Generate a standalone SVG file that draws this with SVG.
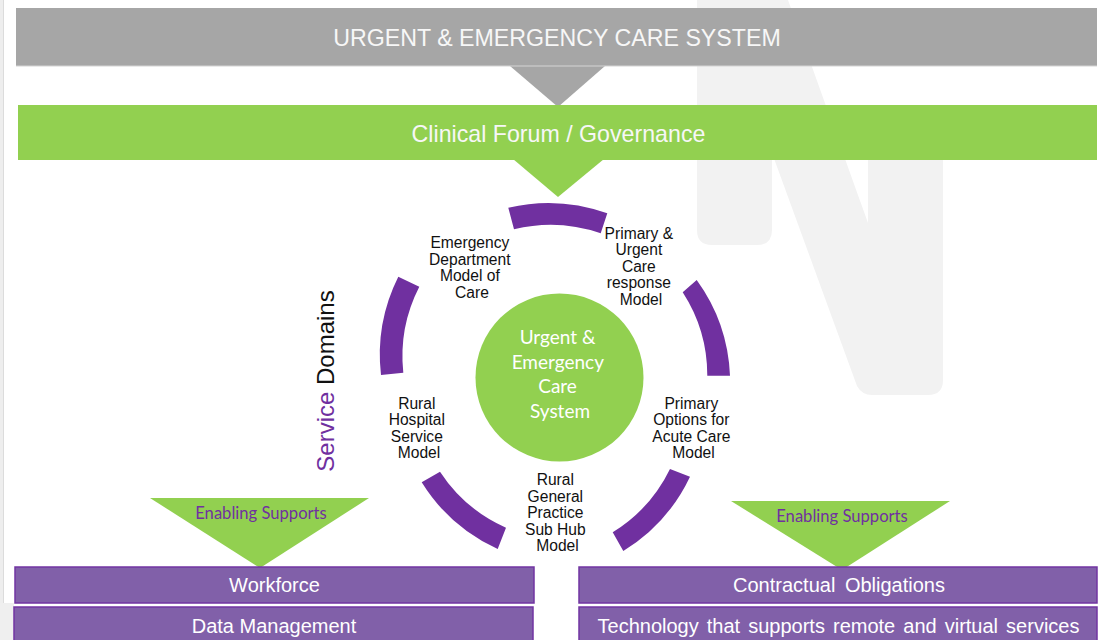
<svg xmlns="http://www.w3.org/2000/svg" width="1101" height="640" viewBox="0 0 1101 640">
  <style>
    .sans { font-family: "Liberation Sans", Arial, sans-serif; }
    .soft { font-family: Lato, "Open Sans", sans-serif; }
    .banner-text { fill: #f7f7f7; font-size: 23.2px; text-anchor: middle; }
    .bar { fill: #8160a9; stroke: #7234a2; stroke-width: 1.5; }
    .bar-text { fill: #ffffff; font-size: 20px; text-anchor: middle; }
    .ring { fill: #7030a0; }
    .label { fill: #111111; font-size: 15.6px; text-anchor: middle; }
    .hub-text { fill: #ffffff; font-size: 19px; text-anchor: middle; }
    .enable-text { fill: #7030a0; font-size: 16.6px; text-anchor: middle; }
    .watermark { fill: #f2f2f2; }
  </style>

  <!-- page background and slide edge -->
  <rect x="0" y="0" width="1101" height="640" fill="#ffffff"/>
  <rect x="0" y="0" width="4" height="640" fill="#eeeeee"/>
  <line x1="3.5" y1="0" x2="3.5" y2="603" stroke="#dcdcdc" stroke-width="1"/>
  <rect x="0" y="603" width="14" height="37" fill="#efefef"/>

  <!-- large background letter -->
  <path class="watermark" d="M697 0 L788 0 L868 223 L868 120 L943 120 L943 380 Q943 395 928 395 L872 395 Q862 395 857 386 L772 153 L772 230 Q772 245 757 245 L712 245 Q697 245 697 230 Z"/>

  <!-- connectors: downward pointers -->
  <g id="connectors">
    <polygon points="510,66 605,66 558,107" fill="#a6a6a6"/>
    <polygon points="513,159 604,159 558,197" fill="#92d050"/>
    <polygon points="150,498 369,498 260,568" fill="#92d050"/>
    <polygon points="731,501 950,501 842,570" fill="#92d050"/>
  </g>

  <g id="system-banner">
    <rect x="16" y="8" width="1081" height="58" fill="#a6a6a6"/>
    <line x1="16" y1="66" x2="1097" y2="66" stroke="#d4d4d4" stroke-width="1"/>
    <text class="sans banner-text" x="557" y="46">URGENT &amp; EMERGENCY CARE SYSTEM</text>
  </g>

  <g id="governance-banner">
    <rect x="18" y="105" width="1079" height="55" fill="#92d050"/>
    <text class="sans banner-text" x="558.5" y="142">Clinical Forum / Governance</text>
  </g>

  <g id="service-ring">
    <path class="ring" d="M508.3 207.7 A175 175 0 0 1 607.3 213.3 L600.7 233.3 A153 153 0 0 0 514 229.3 Z"/>
    <path class="ring" d="M696.7 280 A175 175 0 0 1 730 375.7 L707.3 375.7 A153 153 0 0 0 682.7 292.3 Z"/>
    <path class="ring" d="M690 476.7 A175 175 0 0 1 623.3 551 L612.7 532.3 A153 153 0 0 0 670 469 Z"/>
    <path class="ring" d="M497.7 549 A175 175 0 0 1 421.7 482.3 L440 471.7 A153 153 0 0 0 506 527.7 Z"/>
    <path class="ring" d="M381 375 A175 175 0 0 1 398.3 276.7 L419.3 286.7 A153 153 0 0 0 403.3 372.7 Z"/>
  </g>

  <g id="hub">
    <circle cx="559.5" cy="377.5" r="84" fill="#92d050"/>
    <text class="soft hub-text">
      <tspan x="560" y="344.3">Urgent &amp;</tspan>
      <tspan x="560" y="368.5">Emergency</tspan>
      <tspan x="560" y="392.7">Care</tspan>
      <tspan x="560" y="417.5">System</tspan>
    </text>
  </g>

  <g id="ed-model">
    <text class="sans label">
      <tspan x="472" y="248">Emergency</tspan>
      <tspan x="472" y="264.5">Department</tspan>
      <tspan x="472" y="281">Model of</tspan>
      <tspan x="472" y="297.5">Care</tspan>
    </text>
  </g>

  <g id="primary-urgent-model">
    <text class="sans label">
      <tspan x="641" y="238.5">Primary &amp;</tspan>
      <tspan x="641" y="255">Urgent</tspan>
      <tspan x="641" y="271.5">Care</tspan>
      <tspan x="641" y="288">response</tspan>
      <tspan x="641" y="304.5">Model</tspan>
    </text>
  </g>

  <g id="poac-model">
    <text class="sans label">
      <tspan x="693.5" y="408.5">Primary</tspan>
      <tspan x="693.5" y="425">Options for</tspan>
      <tspan x="693.5" y="441.5">Acute Care</tspan>
      <tspan x="693.5" y="458">Model</tspan>
    </text>
  </g>

  <g id="rural-gp-model">
    <text class="sans label">
      <tspan x="557.5" y="485">Rural</tspan>
      <tspan x="557.5" y="501.5">General</tspan>
      <tspan x="557.5" y="518">Practice</tspan>
      <tspan x="557.5" y="534.5">Sub Hub</tspan>
      <tspan x="557.5" y="551">Model</tspan>
    </text>
  </g>

  <g id="rural-hospital-model">
    <text class="sans label">
      <tspan x="419" y="408.5">Rural</tspan>
      <tspan x="419" y="425">Hospital</tspan>
      <tspan x="419" y="441.5">Service</tspan>
      <tspan x="419" y="458">Model</tspan>
    </text>
  </g>

  <g id="service-domains-title">
    <text class="sans" font-size="24" text-anchor="middle" transform="translate(334 381) rotate(-90)"><tspan fill="#7030a0">Service</tspan><tspan fill="#111111"> Domains</tspan></text>
  </g>

  <g id="enabling-left">
    <text class="soft enable-text" x="261" y="519">Enabling Supports</text>
  </g>
  <g id="enabling-right">
    <text class="soft enable-text" x="842" y="521.5">Enabling Supports</text>
  </g>

  <g id="workforce">
    <rect class="bar" x="15" y="567" width="519" height="36"/>
    <text class="sans bar-text" x="274.5" y="592">Workforce</text>
  </g>
  <g id="data-management">
    <rect class="bar" x="14" y="607" width="519" height="40"/>
    <text class="sans bar-text" x="274" y="633">Data Management</text>
  </g>
  <g id="contractual-obligations">
    <rect class="bar" x="579" y="567" width="518" height="36"/>
    <text class="sans bar-text" x="839" y="592" word-spacing="4">Contractual Obligations</text>
  </g>
  <g id="technology">
    <rect class="bar" x="579" y="607" width="518" height="40"/>
    <text class="sans bar-text" x="838.5" y="633" word-spacing="2.5">Technology that supports remote and virtual services</text>
  </g>
</svg>
